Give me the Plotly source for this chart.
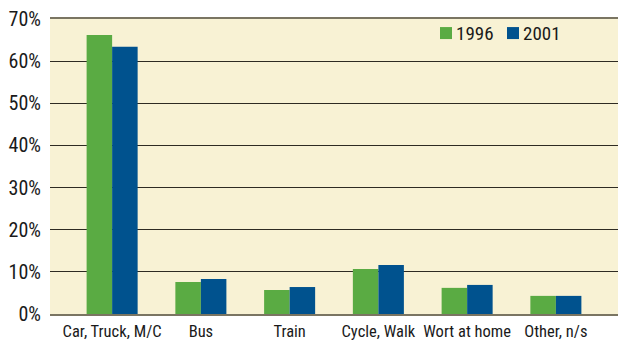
import plotly.graph_objects as go

# Mode of travel to work, share of trips
categories = ["Car, Truck, M/C", "Bus", "Train", "Cycle, Walk", "Wort at home", "Other, n/s"]
share_1996 = [66.2, 7.6, 5.7, 10.7, 6.2, 4.3]
share_2001 = [63.4, 8.3, 6.4, 11.6, 6.9, 4.3]
years = ["1996", "2001"]
y_ticks = [0, 10, 20, 30, 40, 50, 60, 70]

GREEN = "#5aab43"
BLUE = "#00528e"
FONT = "Liberation Sans Narrow, Roboto Condensed, Arial Narrow, sans-serif"

fig = go.Figure()
fig.add_trace(go.Bar(name=years[0], x=categories, y=share_1996, marker=dict(color=GREEN, line=dict(width=0))))
fig.add_trace(go.Bar(name=years[1], x=categories, y=share_2001, marker=dict(color=BLUE, line=dict(width=0))))

# Compact legend in the top-right corner of the plot area
legend_x = [0.6866, 0.8046]
legend_y = 0.932
for name, color, x0 in zip(years, [GREEN, BLUE], legend_x):
    fig.add_shape(type="rect", xref="paper", yref="paper",
                  x0=x0, x1=x0 + 12 / 568, y0=legend_y, y1=legend_y + 12 / 295,
                  fillcolor=color, line=dict(width=0))
    fig.add_annotation(text=name, xref="paper", yref="paper",
                       x=x0 + 14 / 568, y=legend_y + 6 / 295,
                       xanchor="left", yanchor="middle", showarrow=False,
                       font=dict(size=19, color="#1a1a1a"))

fig.update_layout(
    width=618, height=342,
    margin=dict(l=50, r=0, t=19, b=28),
    paper_bgcolor="white",
    plot_bgcolor="#f8f2d4",
    barmode="group",
    bargap=0.425,
    bargroupgap=0,
    font=dict(family=FONT, size=17, color="#1a1a1a"),
    showlegend=False,
)
fig.update_xaxes(
    range=[-0.7, 5.7],
    showgrid=False,
    showline=True, mirror=True, linecolor="#7a7562", linewidth=2,
    ticks="", ticklen=0,
    automargin=False,
    ticklabelstandoff=1,
    tickfont=dict(size=16.5),
)
fig.update_yaxes(
    range=[0, 70],
    tickvals=y_ticks,
    ticktext=[f"{v}%" for v in y_ticks],
    showgrid=True, gridcolor="#2e2b22", gridwidth=1,
    zeroline=False,
    ticks="", ticklen=0,
    automargin=False,
    ticklabelstandoff=8,
    tickfont=dict(size=20),
)

fig.write_html("out.html")
